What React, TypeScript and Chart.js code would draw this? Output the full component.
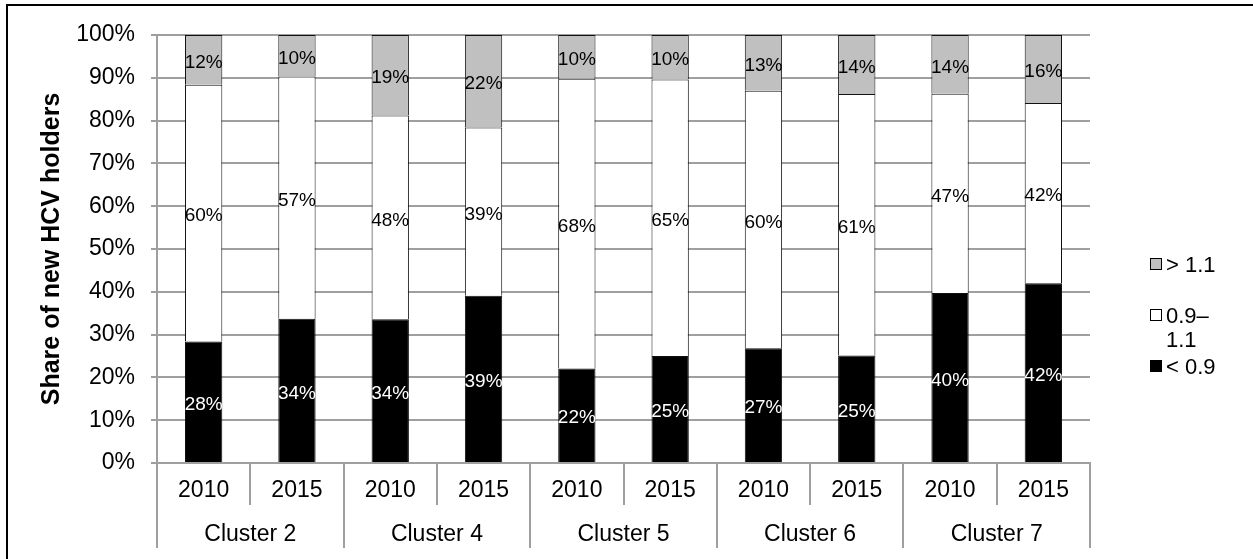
import { useEffect, useRef } from "react";
import { Chart, registerables } from "chart.js";

Chart.register(...registerables);

const years = ["2010", "2015", "2010", "2015", "2010", "2015", "2010", "2015", "2010", "2015"];
const clusters = ["Cluster 2", "Cluster 4", "Cluster 5", "Cluster 6", "Cluster 7"];
const below09 = [28.4, 33.7, 33.6, 39.1, 22.1, 25.0, 26.8, 25.1, 39.7, 42.0];
const mid0911 = [60.0, 56.6, 47.6, 39.3, 67.7, 64.6, 60.2, 61.1, 46.6, 42.1];
const above11 = [11.6, 9.7, 18.8, 21.6, 10.2, 10.4, 13.0, 13.8, 13.7, 15.9];
const seriesNames = ["< 0.9", "0.9–1.1", "> 1.1"];
const legendLines = [["> 1.1"], ["0.9–", "1.1"], ["< 0.9"]];
const yTitle = "Share of new HCV holders";

const FONT = '"Liberation Sans", Arial, Helvetica, sans-serif';
const GRID = "#9f9f9f";
const FILLS = ["#000000", "#ffffff", "#c0c0c0"];
const LABEL_COLORS = ["#ffffff", "#000000", "#000000"];

const customPlugin = {
  id: "custom",
  afterDatasetsDraw(chart: any) {
    const ctx = chart.ctx;
    ctx.save();
    ctx.font = `19px ${FONT}`;
    ctx.textAlign = "center";
    ctx.textBaseline = "middle";
    chart.data.datasets.forEach((ds: any, di: number) => {
      const meta = chart.getDatasetMeta(di);
      meta.data.forEach((bar: any, i: number) => {
        const v = ds.data[i];
        const y = (bar.y + bar.base) / 2 + 3;
        ctx.fillStyle = LABEL_COLORS[di];
        ctx.fillText(Math.round(v) + "%", bar.x, y);
      });
    });
    ctx.restore();
  },
  afterDraw(chart: any) {
    const ctx = chart.ctx;
    const xs = chart.scales.x;
    const area = chart.chartArea;
    ctx.save();
    // outer frame
    ctx.strokeStyle = "#000";
    ctx.lineWidth = 2;
    ctx.strokeRect(7, 5, 1400, 700);
    // category separators
    const n = years.length;
    const step = (xs.right - xs.left) / n;
    ctx.strokeStyle = GRID;
    ctx.lineWidth = 2;
    for (let i = 0; i <= n; i++) {
      const x = Math.round(xs.left + i * step);
      const yEnd = i % 2 === 0 ? 548 : 505;
      ctx.beginPath();
      ctx.moveTo(x, area.bottom);
      ctx.lineTo(x, yEnd);
      ctx.stroke();
    }
    // cluster labels
    ctx.fillStyle = "#000";
    ctx.font = `23px ${FONT}`;
    ctx.textAlign = "center";
    ctx.textBaseline = "middle";
    clusters.forEach((c, k) => {
      const x = (xs.getPixelForValue(2 * k) + xs.getPixelForValue(2 * k + 1)) / 2;
      ctx.fillText(c, x, 535);
    });
    // legend
    const legendFill = [FILLS[2], FILLS[1], FILLS[0]];
    const boxY = [264, 315, 366];
    ctx.font = `22px ${FONT}`;
    ctx.textAlign = "left";
    legendLines.forEach((lines, k) => {
      ctx.fillStyle = legendFill[k];
      ctx.fillRect(1150, boxY[k] - 6, 12, 12);
      ctx.strokeStyle = "#000";
      ctx.lineWidth = 1;
      ctx.strokeRect(1150.5, boxY[k] - 5.5, 11, 11);
      ctx.fillStyle = "#000";
      lines.forEach((t, j) => {
        ctx.fillText(t, 1166, boxY[k] + 2 + j * 24);
      });
    });
    ctx.restore();
  },
};

export default function App() {
  const ref = useRef<HTMLCanvasElement>(null);
  useEffect(() => {
    const canvas = ref.current;
    if (!canvas) return;
    const values = [below09, mid0911, above11];
    const chart = new Chart(canvas, {
      type: "bar",
      data: {
        labels: years,
        datasets: values.map((d, i) => ({
          label: seriesNames[i],
          data: d,
          backgroundColor: FILLS[i],
          borderColor: "#111",
          borderWidth: 1,
          barPercentage: 0.4,
          categoryPercentage: 1.0,
        })),
      },
      options: {
        animation: false,
        responsive: false,
        devicePixelRatio: 1,
        layout: { padding: { left: 0, top: 35, right: 163, bottom: 0 } },
        plugins: {
          legend: { display: false },
          tooltip: { enabled: false },
        },
        scales: {
          x: {
            stacked: true,
            grid: { display: false, drawTicks: false },
            border: { display: true, color: GRID, width: 2 },
            ticks: {
              color: "#000",
              font: { family: FONT, size: 23 },
              padding: 14,
              autoSkip: false,
              maxRotation: 0,
            },
            afterFit: (s: any) => {
              s.height = 96;
            },
          },
          y: {
            stacked: true,
            min: 0,
            max: 100,
            ticks: {
              stepSize: 10,
              autoSkip: false,
              color: "#000",
              font: { family: FONT, size: 23 },
              padding: 16,
              callback: (v: any) => v + "%",
            },
            grid: { color: GRID, lineWidth: 2, tickLength: 6 },
            border: { display: true, color: GRID, width: 2 },
            title: {
              display: true,
              text: yTitle,
              color: "#000",
              font: { family: FONT, size: 25, weight: "bold" },
              padding: { top: 37, bottom: 0 },
            },
            afterFit: (s: any) => {
              s.width = 157;
            },
          },
        },
      },
      plugins: [customPlugin],
    } as any);
    return () => chart.destroy();
  }, []);
  return (
    <div style={{ position: "absolute", left: 0, top: 0, width: 1253, height: 559, background: "#fff" }}>
      <canvas ref={ref} width={1253} height={559} />
    </div>
  );
}
